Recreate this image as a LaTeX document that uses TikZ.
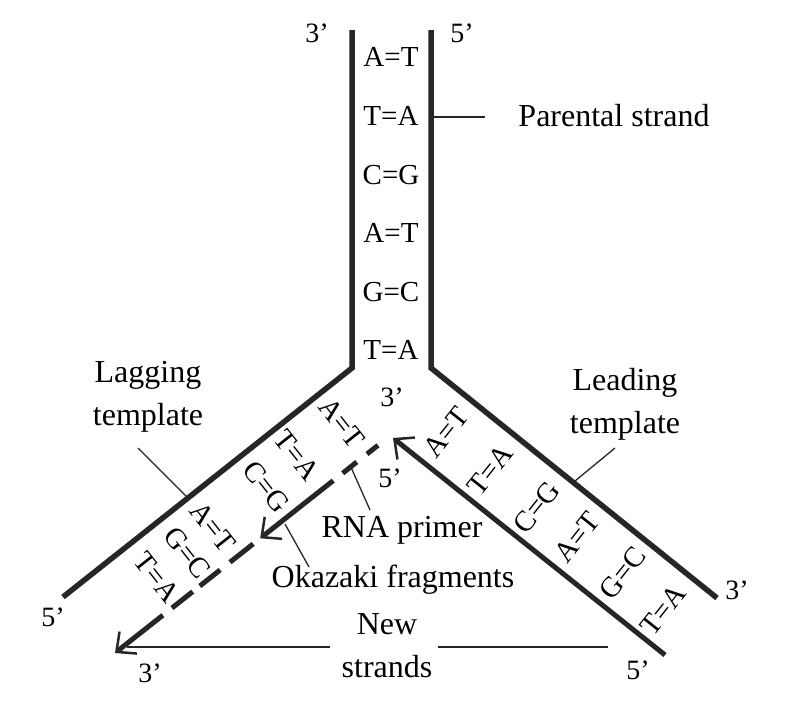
\documentclass[tikz,border=0pt]{standalone}
\usepackage{fontspec}
\setmainfont{Liberation Serif}
\usetikzlibrary{arrows.meta}
\begin{document}
\begin{tikzpicture}[x=1pt,y=-1pt,
  strand/.style={line width=5.5pt, line join=miter, line cap=butt, color=black!85},
  newstrand/.style={line width=5pt, line cap=butt, color=black!85},
  barb/.style={-{Straight Barb[length=15pt,width=28pt,line width=2.5pt]}},
  pointer/.style={line width=1.3pt, color=black!85},
  bp/.style={font=\fontsize{29}{30}\selectfont, inner sep=0pt},
  lbl/.style={font=\fontsize{32}{43}\selectfont, align=center, inner sep=0pt},
  prime/.style={font=\fontsize{28}{30}\selectfont, inner sep=0pt}]
\useasboundingbox[fill=white] (0,0) rectangle (812,712);

% parental / template strands
\coordinate (LT) at (352,30); \coordinate (LF) at (352,368); \coordinate (LE) at (63,597);
\coordinate (RT) at (431,30); \coordinate (RF) at (431,368); \coordinate (RE) at (717,598);
\draw[strand] (LT) -- (LF) -- (LE);
\draw[strand] (RT) -- (RF) -- (RE);

% leading new strand
\coordinate (LdS) at (665,655); \coordinate (LdE) at (393,438);
\draw[newstrand,barb] (LdS) -- (LdE);

% lagging new strand (Okazaki fragments)
\coordinate (g1a) at (162.9,615.2); \coordinate (g1b) at (115,653);
\coordinate (g2a) at (172.0,608.0); \coordinate (g2b) at (192.7,591.6);
\coordinate (g3a) at (199.8,586.0); \coordinate (g3b) at (220.2,569.9);
\coordinate (g4a) at (230.0,562.2); \coordinate (g4b) at (253.2,543.9);
\coordinate (g5a) at (333.2,480.6); \coordinate (g5b) at (260.2,538.3);
\coordinate (g6a) at (342.7,473.2); \coordinate (g6b) at (356.8,462.0);
\coordinate (g7a) at (367.0,454.0); \coordinate (g7b) at (378.0,445.3);
\draw[newstrand,barb] (g1a) -- (g1b);
\draw[newstrand] (g2a) -- (g2b);
\draw[newstrand] (g3a) -- (g3b);
\draw[newstrand] (g4a) -- (g4b);
\draw[newstrand,barb] (g5a) -- (g5b);
\draw[newstrand] (g6a) -- (g6b);
\draw[newstrand] (g7a) -- (g7b);

% base pairs, vertical
\node[bp] (v1) at (391,57) {A=T};
\node[bp] (v2) at (391,116) {T=A};
\node[bp] (v3) at (391,175) {C=G};
\node[bp] (v4) at (391,233) {A=T};
\node[bp] (v5) at (391,292) {G=C};
\node[bp] (v6) at (391,350) {T=A};

% base pairs, lagging arm
\node[bp,rotate=-51.7] (l1) at (342,423) {A=T};
\node[bp,rotate=-51.7] (l2) at (297,455) {T=A};
\node[bp,rotate=-51.7] (l3) at (266,487) {C=G};
\node[bp,rotate=-51.7] (l4) at (213,527) {A=T};
\node[bp,rotate=-51.7] (l5) at (187,553) {G=C};
\node[bp,rotate=-51.7] (l6) at (157,577) {T=A};

% base pairs, leading arm
\node[bp,rotate=51.5] (r1) at (446,432) {A=T};
\node[bp,rotate=51.5] (r2) at (490,470) {T=A};
\node[bp,rotate=51.5] (r3) at (537,507) {C=G};
\node[bp,rotate=51.5] (r4) at (577,537) {A=T};
\node[bp,rotate=51.5] (r5) at (623,573) {G=C};
\node[bp,rotate=51.5] (r6) at (663,610) {T=A};

% ends
\node[prime] (p1) at (317,33) {3’};
\node[prime] (p2) at (462,33) {5’};
\node[prime] (p3) at (392,397) {3’};
\node[prime] (p4) at (390,478) {5’};
\node[prime] (p5) at (53,617) {5’};
\node[prime] (p6) at (150,673) {3’};
\node[prime] (p7) at (737,590) {3’};
\node[prime] (p8) at (638,670) {5’};

% labels
\node[lbl] (par) at (614,116) {Parental strand};
\node[lbl] (lag) at (148,397) {Lagging\\template};
\node[lbl] (lead) at (625,404) {Leading\\template};
\node[lbl] (rna) at (402,530) {RNA primer};
\node[lbl] (oka) at (393,580) {Okazaki fragments};
\node[lbl] (new) at (387,646) {New\\strands};

% pointer lines
\coordinate (pa1) at (433,117); \coordinate (pa2) at (485,117);
\draw[pointer] (pa1) -- (pa2);
\coordinate (lg1) at (138,448); \coordinate (lg2) at (187,497);
\draw[pointer] (lg1) -- (lg2);
\coordinate (ld1) at (615,448); \coordinate (ld2) at (575,481);
\draw[pointer] (ld1) -- (ld2);
\coordinate (rp1) at (350,465); \coordinate (rp2) at (370,510);
\draw[pointer] (rp1) -- (rp2);
\coordinate (ok1) at (285,524); \coordinate (ok2) at (309,567);
\draw[pointer] (ok1) -- (ok2);
\coordinate (nw1) at (330,647); \coordinate (nw2) at (127,647);
\draw[pointer] (nw1) -- (nw2);
\coordinate (nw3) at (438,647); \coordinate (nw4) at (608,647);
\draw[pointer] (nw3) -- (nw4);
\end{tikzpicture}
\end{document}
